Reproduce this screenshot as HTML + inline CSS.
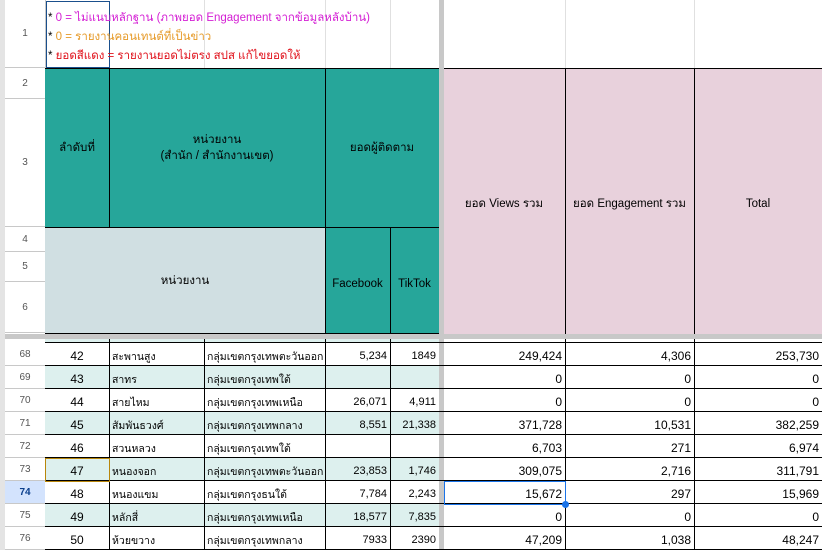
<!DOCTYPE html>
<html><head><meta charset="utf-8"><style>
*{margin:0;padding:0;box-sizing:border-box}
body{width:822px;height:550px;overflow:hidden;background:#fff;font-family:"Liberation Sans","Noto Sans CJK SC",sans-serif;font-size:11px;color:#000;position:relative}
.a{position:absolute}
.rh{position:absolute;left:5px;width:40px;text-align:center;color:#555;font-size:10px;border-bottom:1px solid #c8c8c8;background:#fff;display:flex;align-items:center;justify-content:center}
.c{position:absolute;display:flex;align-items:center;overflow:hidden;white-space:nowrap;padding:0 3px}
.r{justify-content:flex-end}
.m{justify-content:center;text-align:center}
</style></head><body>
<div class="a" style="left:0;top:0;width:5px;height:550px;background:#e4e4e4"></div>
<div class="a" style="left:45px;top:0;width:1px;height:550px;background:#c8c8c8"></div>
<div class="rh" style="top:0;height:68px">1</div>
<div class="rh" style="top:68px;height:31px">2</div>
<div class="rh" style="top:99px;height:128px">3</div>
<div class="rh" style="top:227px;height:25px">4</div>
<div class="rh" style="top:252px;height:30px">5</div>
<div class="rh" style="top:282px;height:51px">6</div>

<div class="a" style="left:204px;top:0;width:1px;height:68px;background:#e0e0e0"></div>
<div class="a" style="left:325px;top:0;width:1px;height:68px;background:#e0e0e0"></div>
<div class="a" style="left:390px;top:0;width:1px;height:68px;background:#e0e0e0"></div>
<div class="a" style="left:565px;top:0;width:1px;height:68px;background:#e0e0e0"></div>
<div class="a" style="left:694px;top:0;width:1px;height:68px;background:#e0e0e0"></div>
<div class="a" style="left:46px;top:1px;width:64px;height:67px;border:1px solid #1a4f8c"></div>
<div class="a" style="left:48px;top:9px;color:#d41fd4;font-size:11.5px;white-space:nowrap"><span style="color:#000">*</span> 0 = ไม่แนบหลักฐาน (ภาพยอด Engagement จากข้อมูลหลังบ้าน)</div>
<div class="a" style="left:48px;top:28px;color:#e69a28;font-size:11.5px;white-space:nowrap"><span style="color:#000">*</span> 0 = รายงานคอนเทนต์ที่เป็นข่าว</div>
<div class="a" style="left:48px;top:47px;color:#e0101a;font-size:11.5px;white-space:nowrap"><span style="color:#000">*</span> ยอดสีแดง = รายงานยอดไม่ตรง สปส แก้ไขยอดให้</div>

<div class="a" style="left:45px;top:68px;width:395px;height:266px;background:#26a69a;border-top:1px solid #000"></div>
<div class="a" style="left:45px;top:227px;width:280px;height:107px;background:#d0dfe2"></div>
<div class="a" style="left:109px;top:68px;width:1px;height:159px;background:#000"></div>
<div class="a" style="left:325px;top:68px;width:1px;height:266px;background:#000"></div>
<div class="a" style="left:390px;top:227px;width:1px;height:107px;background:#000"></div>
<div class="a" style="left:45px;top:227px;width:395px;height:1px;background:#000"></div>
<div class="a" style="left:45px;top:333px;width:395px;height:1px;background:#000"></div>
<div class="c m" style="left:45px;top:68px;width:64px;height:159px;font-size:11.5px">ลำดับที่</div>
<div class="c m" style="left:109px;top:68px;width:216px;height:159px;white-space:normal;line-height:16px;font-size:11.5px">หน่วยงาน<br>(สำนัก / สำนักงานเขต)</div>
<div class="c m" style="left:325px;top:68px;width:114px;height:159px;font-size:11.5px">ยอดผู้ติดตาม</div>
<div class="c m" style="left:45px;top:227px;width:280px;height:107px;font-size:11.5px">หน่วยงาน</div>
<div class="c m" style="left:325px;top:230px;width:65px;height:107px;padding:0;font-size:11.5px">Facebook</div>
<div class="c m" style="left:390px;top:230px;width:49px;height:107px;padding:0;font-size:11.5px">TikTok</div>

<div class="a" style="left:443px;top:68px;width:379px;height:266px;background:#e8d1dc;border-top:1px solid #000"></div>
<div class="a" style="left:565px;top:68px;width:1px;height:266px;background:#000"></div>
<div class="a" style="left:694px;top:68px;width:1px;height:266px;background:#000"></div>
<div class="c m" style="left:443px;top:190px;width:122px;height:28px;font-size:11.5px">ยอด Views รวม</div>
<div class="c m" style="left:565px;top:190px;width:129px;height:28px;font-size:11.5px">ยอด Engagement รวม</div>
<div class="c m" style="left:694px;top:190px;width:128px;height:28px;font-size:11.5px">Total</div>

<div class="a" style="left:439px;top:0;width:5px;height:550px;background:#c8c8c8"></div>
<div class="a" style="left:5px;top:334px;width:817px;height:5px;background:#c8c8c8"></div>
<div class="a" style="left:45px;top:339px;width:394px;height:3px;background:#ddf0ee"></div>
<div class="a" style="left:45px;top:342px;width:777px;height:1px;background:#000"></div>

<div id="rows"></div>
<script>
var data=[
[68,42,"สะพานสูง","กลุ่มเขตกรุงเทพตะวันออก","5,234","1849","249,424","4,306","253,730"],
[69,43,"สาทร","กลุ่มเขตกรุงเทพใต้","","","0","0","0"],
[70,44,"สายไหม","กลุ่มเขตกรุงเทพเหนือ","26,071","4,911","0","0","0"],
[71,45,"สัมพันธวงศ์","กลุ่มเขตกรุงเทพกลาง","8,551","21,338","371,728","10,531","382,259"],
[72,46,"สวนหลวง","กลุ่มเขตกรุงเทพใต้","","","6,703","271","6,974"],
[73,47,"หนองจอก","กลุ่มเขตกรุงเทพตะวันออก","23,853","1,746","309,075","2,716","311,791"],
[74,48,"หนองแขม","กลุ่มเขตกรุงธนใต้","7,784","2,243","15,672","297","15,969"],
[75,49,"หลักสี่","กลุ่มเขตกรุงเทพเหนือ","18,577","7,835","0","0","0"],
[76,50,"ห้วยขวาง","กลุ่มเขตกรุงเทพกลาง","7933","2390","47,209","1,038","48,247"]];
var cols=[[45,64],[109,95],[204,121],[325,65],[390,49],[444,121],[565,129],[694,128]];
var h="";
data.forEach(function(d,i){
 var y=343+i*23, bg=(i%2==1)?"#ddf0ee":"#fff";
 var sel=d[0]==74;
 h+='<div class="rh" style="top:'+y+'px;height:23px;'+(sel?'background:#d3e3fd;color:#0b3f8c;font-weight:bold;':'')+'">'+d[0]+'</div>';
 h+='<div class="a" style="left:45px;top:'+y+'px;width:394px;height:23px;background:'+bg+'"></div>';
 for(var k=0;k<8;k++){
  var c=cols[k], v=d[k+1];
  var cls=k==0?"c m":(k<3?"c":"c r");
  var fs=k>=5?"font-size:12px;":"";
  if(k==1||k==2) fs="font-size:10.5px;";
  if(k==0) fs="font-size:12px;";
  h+='<div class="'+cls+'" style="left:'+c[0]+'px;top:'+y+'px;width:'+c[1]+'px;height:23px;'+fs+'padding-top:3px">'+v+'</div>';
 }
 h+='<div class="a" style="left:45px;top:'+(y+22)+'px;width:777px;height:1px;background:#000"></div>';
});
[109,204,325,390,565,694].forEach(function(x){h+='<div class="a" style="left:'+x+'px;top:339px;width:1px;height:211px;background:#000"></div>';});
h+='<div class="a" style="left:45px;top:458px;width:65px;height:24px;border:1px solid #b8860b"></div>';
h+='<div class="a" style="left:444px;top:481px;width:122px;height:24px;border:1px solid #1a73e8"></div>';
h+='<div class="a" style="left:562px;top:501px;width:7px;height:7px;border-radius:50%;background:#1a73e8"></div>';
document.getElementById("rows").innerHTML=h;
</script>
</body></html>
